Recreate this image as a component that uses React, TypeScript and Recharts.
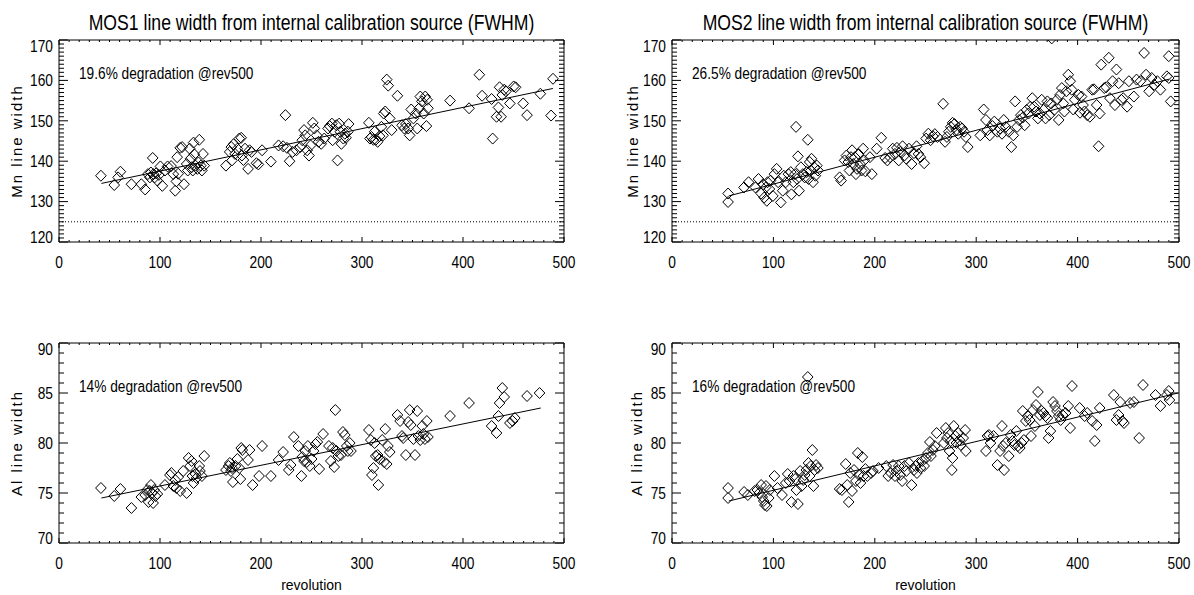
import React from 'react';
import { ScatterChart, Scatter, XAxis, YAxis, ReferenceLine } from 'recharts';

const FONT = "'Liberation Sans', Arial, Helvetica, sans-serif";

// ---------- tick labels ----------
const xMajorTicks = [0, 100, 200, 300, 400, 500];
const mnMajorTicks = [120, 130, 140, 150, 160, 170];
const alMajorTicks = [70, 75, 80, 85, 90];

// ---------- texts ----------
const titleMos1 = 'MOS1 line width from internal calibration source (FWHM)';
const titleMos2 = 'MOS2 line width from internal calibration source (FWHM)';
const labelMn = 'Mn line width';
const labelAl = 'Al line width';
const labelX = 'revolution';
const noteMos1Mn = '19.6% degradation @rev500';
const noteMos2Mn = '26.5% degradation @rev500';
const noteMos1Al = '14% degradation @rev500';
const noteMos2Al = '16% degradation @rev500';

// ---------- reference levels & fits ----------
const mnInitialLevel = 125;
const mos1MnFit: [number, number][] = [[42, 134.5], [489, 158]];
const mos2MnFit: [number, number][] = [[56, 131.4], [490, 160.3]];
const mos1AlFit: [number, number][] = [[42, 74.5], [477, 83.5]];
const mos2AlFit: [number, number][] = [[56, 74.2], [499, 85.0]];

// ---------- data: [revolution, line width] ----------
const mos1MnPoints: [number, number][] = [
  [41.5, 136.4], [54.7, 134.1], [58.5, 136.0], [60.8, 137.4], [71.7, 134.3],
  [81.5, 134.3], [85.3, 133.0], [88, 136.8], [90, 136], [91, 137.2], [92.8, 140.8],
  [93.6, 136.8], [94.7, 136], [96.2, 137], [97.4, 135.2], [98.9, 136.6], [100.4, 138.7],
  [102.3, 133.9], [104.9, 137.7], [107.5, 138.7], [111, 138.8], [113.2, 136.8],
  [115.1, 132.7], [116.2, 135], [117, 141], [118, 136.9], [120, 143.3], [121.9, 143.5],
  [123.8, 134.3], [126.4, 139.3], [127.5, 137.7], [129.4, 143.1], [130.2, 140.6],
  [131.3, 138.5], [132.5, 137.7], [133.2, 144.6], [134, 141.7], [135.1, 138.9],
  [137, 138.1], [138.1, 139.7], [138.9, 145.3], [140.4, 138.9], [141.5, 137.7],
  [142.6, 141.8], [143.8, 138.9],
  [165.3, 138.9], [169, 142.3], [170.6, 143.5], [171.3, 140.2], [172.8, 144.2],
  [174.3, 141.8], [176.6, 143.1], [178.5, 145.6], [180.4, 145.8], [181.1, 141.4],
  [182.6, 140.3], [184.2, 143.1], [187.2, 138.1], [188.7, 142.7], [190.6, 142.3],
  [195.5, 139.5], [197.4, 139.2], [201.1, 142.7], [209.8, 139.9],
  [217.4, 143.9], [221.9, 143.7], [224.2, 151.4], [225.7, 143.3], [228.3, 140],
  [231.3, 142.3], [235.1, 142.7], [238.9, 143.5], [240.8, 145.2], [242.6, 147.7],
  [243.8, 146.4], [245.7, 142.7], [247.5, 141.4], [249.1, 143.9], [251.3, 149.5],
  [252.8, 148.1], [255.1, 146.4], [257, 144.8], [259.6, 144.3], [262.6, 145.6],
  [266.4, 148.1], [268, 148.7], [270.2, 149.3], [270.9, 145.2], [272.8, 147.3],
  [274.7, 148.9], [275.8, 140.2], [277.4, 149.3], [278.5, 147.3], [279.6, 144.3],
  [281.5, 145.6], [283, 146.8], [284.2, 145.8], [286, 147.3], [286.8, 149.2],
  [306.8, 149.5], [307.9, 145.6], [309.4, 146], [311.3, 145.3], [312.5, 147.3],
  [313.6, 145.3], [315.5, 144.8], [317.4, 146.2], [319.2, 148.5], [320.8, 146.4],
  [321.5, 151.8], [323, 152.3], [324.5, 160.2], [326, 158.7], [327.5, 150.6],
  [329.4, 147.7], [335.1, 156.2], [339.6, 148.9], [341.9, 148.1], [343.4, 149.2],
  [345.7, 148.1], [347.2, 146.4], [348.7, 152.8], [350.9, 150.6], [353.2, 151.8],
  [354.7, 148.1], [356.6, 153.1], [357.7, 156], [359.2, 154.8], [361.1, 151.8],
  [362.6, 156], [363.8, 148.7], [365.3, 153.1], [364.5, 155.2],
  [387.2, 155], [406, 153.1], [416.2, 161.4], [418.9, 156.2], [429.4, 145.6],
  [428.3, 155.4], [433.2, 151], [435.1, 153.3], [436.2, 158.3], [437.7, 151],
  [438.9, 156.4], [440.8, 157.7], [442.6, 157.3], [446.4, 154.3], [450.2, 158.5],
  [452.1, 158.3], [459.6, 154.3], [463.4, 151.4], [476.6, 156.7], [487.2, 151.3],
  [489.1, 160.4],
];

const mos2MnPoints: [number, number][] = [
  [55.3, 132], [55.3, 129.9], [71, 133.5], [75.5, 134.8], [82.3, 133.5], [85.3, 135.6],
  [87.9, 132], [89.8, 134.3], [90.9, 131], [92.4, 133.5], [93.5, 130.2], [94.2, 134.8],
  [96.1, 133.1], [97.2, 135.2], [99.5, 131.4], [101, 136.8], [103.2, 138.1], [104.7, 134.8],
  [107.3, 129.8], [109.2, 132.7], [110.3, 136.4], [112.2, 134.8], [114.8, 136.8],
  [117.1, 137.3], [117.8, 131.8], [119.7, 134.8], [121.2, 136.8], [122.3, 148.5],
  [123.4, 135.6], [124.2, 141.2], [125.3, 132.7], [127.1, 138.5], [129, 136.8],
  [130.9, 136], [132.8, 137.3], [133.9, 145.3], [134.6, 135.6], [135.8, 139.8],
  [136.9, 137.7], [137.6, 140.6], [139.1, 134.8], [140.2, 138.5], [141.4, 136.4],
  [142.9, 138.9], [144, 137.7],
  [165.3, 136], [166.8, 135.2], [170.2, 140.2], [172, 141.4], [173.9, 139.8], [175, 137.7],
  [176.5, 141], [177.6, 142.7], [178.8, 139.3], [180.3, 141], [181.4, 136.8], [182.5, 138.1],
  [184, 141.8], [185.5, 139.3], [187, 137.7], [188.5, 143.1], [189.6, 140.2], [190.7, 137.5],
  [195.2, 141], [197.1, 136.8], [201.9, 143.1], [206.4, 145.8],
  [210.2, 140.8], [212.4, 140.2], [215, 141], [217.7, 143.1], [219.9, 141.8], [221.8, 143.3],
  [223.6, 140.2], [225.1, 142.3], [227.4, 143.7], [229.2, 141.4], [231.1, 140.6],
  [233.7, 143.1], [236.3, 139.3], [238.6, 142], [241.2, 143.7], [243.1, 141.8], [245, 141],
  [248.7, 139.5],
  [250.6, 145.6], [252.8, 146.8], [255, 145.2], [257.3, 146.2], [259.2, 146.7], [261.8, 146],
  [267.4, 154.2], [269.3, 144.8], [271.1, 146], [273, 147.3], [274.9, 148.5], [276.7, 149.5],
  [278.6, 149.2], [280.5, 147.8], [282.3, 146.8], [284.2, 148.5], [286.1, 148.1],
  [288, 147.3], [289.8, 146], [291.7, 143.5],
  [304, 146.4], [307.4, 152.8], [309.6, 150.2], [311.1, 147.7], [313.4, 146.4], [316, 148.7],
  [317.9, 149.8], [320.9, 147.3], [323.5, 148.1], [325.4, 146.8], [327.2, 150.2],
  [329.1, 148.5], [332.1, 147.3], [334.7, 143.5], [336.6, 146.4], [338.4, 154.8],
  [340.3, 148.5], [342.2, 150.2], [344, 151.4], [345.9, 150.8], [347.8, 148.9],
  [349.7, 152.7], [351.5, 151.8], [353.4, 153.5], [355.3, 155.6], [357.1, 153.5],
  [359, 152.3], [360.9, 150.6], [362.8, 151.8], [364.6, 155.2], [366.5, 152.7],
  [368.4, 150.6], [370.2, 154.8], [372.1, 151.4], [374, 154.3], [374.5, 170.4],
  [377, 152.7], [379.6, 155.2], [381.4, 150.2], [382.6, 156.4], [384.4, 158.1],
  [385.9, 154.3], [387, 152.3], [388.9, 157.3], [390.8, 161.4], [392.7, 159.8],
  [394.2, 157.7], [395.7, 152.8], [397.2, 155.2],
  [400.9, 156.4], [402.4, 152], [403.9, 156], [405.4, 153.9], [406.9, 152.3], [409.5, 151.4],
  [412.1, 151], [414.4, 157.7], [416.2, 157.8], [418.8, 153.9], [420.7, 143.7],
  [421.8, 151.8], [423.3, 163.9], [426.3, 158.1], [428.2, 158.3], [430.8, 165.6],
  [431.9, 155.6], [434.5, 159.8], [436.8, 153.9], [438.3, 162.7], [440.5, 159.3],
  [443.1, 155.2], [445, 155.6], [448.8, 153.5], [450.6, 159.8], [455.5, 156],
  [458.1, 160.2], [461.9, 159.8], [465.6, 166.8], [467.5, 161.4], [470.5, 157.3],
  [473.1, 160.6], [475.7, 158.9], [478.7, 159.8], [481.7, 157.7], [488, 161],
  [489.9, 166], [489.9, 160.6], [491.8, 154.8],
];

const mos1AlPoints: [number, number][] = [
  [41.5, 75.5], [54.7, 74.7], [60.8, 75.4], [71.7, 73.5], [81.5, 74.6], [85.3, 74.8],
  [87.2, 75.3], [88.7, 74.1], [89.8, 75.2], [91, 75.8], [92.1, 75], [93.2, 74],
  [94.3, 75.3], [95.5, 74.7], [97.4, 74.9], [104.9, 75.8], [109.8, 76.8], [111.3, 77],
  [113.2, 75.7], [115.1, 76.3], [116.2, 75.5], [118.1, 76.6], [120, 75.2], [123, 77.2],
  [126.4, 75], [128.3, 78.5], [129.8, 77.7], [131.3, 78.2], [132.1, 76.7], [133.2, 76],
  [135.1, 76.9], [136.2, 76.5], [138.9, 77.7], [139.6, 77.2], [141.5, 76.7], [143.8, 78.7],
  [165.3, 77.3], [167.9, 77.7], [169.1, 78], [170.2, 77.2], [171.3, 77.5], [172.1, 76.1],
  [174.7, 77.7], [176.6, 78.4], [178.5, 77.5], [179.6, 76.4], [180.4, 79.5], [181.5, 79.3],
  [187.2, 78.3], [188.7, 79.3], [191.7, 75.8], [198.1, 76.7], [201.1, 79.7], [209.8, 76.7],
  [217.4, 78.3], [221.9, 79.1], [227.5, 77.3], [229.4, 77.8], [232.5, 80.6], [237, 79.7],
  [240, 76.7], [240.8, 78.6], [242.6, 78.2], [243.8, 79.2], [245.3, 78.1], [246.4, 79.7],
  [248.3, 77.7], [250.2, 78.4], [252.1, 79.2], [254, 79.9], [255.8, 80.1], [257.7, 77.4],
  [261.5, 80.9],
  [267.2, 79.7], [269.1, 78.2], [271, 79.5], [272.5, 77.6], [273.6, 83.3], [274.7, 79.2],
  [276.6, 78.7], [279.2, 78.8], [281.1, 81.1], [283, 80.8], [284.9, 79.7], [286, 79.2],
  [287.9, 80], [289.1, 79.2],
  [306.8, 81.3], [308.7, 80.3], [309.8, 76.8], [311.3, 77.5], [312.5, 80], [313.6, 78.7],
  [315.5, 78.8], [316.2, 75.8], [317.4, 78.4], [320, 80.3], [321.9, 78.1], [323, 81.4],
  [324.5, 77.9], [325.7, 79.7], [327.5, 79.1], [335.1, 82.8], [337.7, 82.2], [339.6, 80.7],
  [340.8, 80.5], [343.4, 78.8], [345.7, 82.1], [347.2, 83.3], [348.3, 81.8], [350.9, 80.4],
  [352.5, 78.8], [354.7, 83.2], [355.8, 80.7], [357.7, 80.3], [359.6, 81.7], [360.8, 80.9],
  [362.3, 80.4], [364.2, 82.2], [365.3, 80.6],
  [387.2, 82.7], [406, 84], [428.3, 81.7], [433.2, 81], [435.1, 82.7], [436.2, 84],
  [438.9, 85.5], [440.8, 84.6], [446.4, 82], [449.1, 82.2], [451.3, 82.5], [463.4, 84.7],
  [475.8, 85],
];

const mos2AlPoints: [number, number][] = [
  [55.3, 75.5], [55.3, 74.5], [71.1, 75.1], [74.8, 74.8], [81.5, 75.2], [84.1, 75.3],
  [86, 75], [87.9, 75.8], [89, 74.6], [90.5, 74.2], [91.6, 73.8], [92.7, 75.7], [93.5, 73.7],
  [95.4, 74.5], [96.5, 75.3], [101, 76.7], [104, 75.5], [108.5, 74.8], [112.2, 76],
  [114.1, 76.9], [115.9, 76.2], [117.8, 74.1], [119.7, 76.7], [121.5, 76.4], [122.7, 75.3],
  [124.2, 73.9], [126.4, 77.2], [127.9, 75.7], [129.4, 76.3], [130.9, 76.8], [132.4, 77.3],
  [133.9, 86.6], [134.6, 78], [135.8, 76.7], [136.9, 77.7], [138.4, 79.3], [139.5, 75.7],
  [140.6, 77.3], [142.1, 77.8], [143.9, 77.5],
  [165.3, 75.4], [167.5, 75.3], [171.3, 77.9], [172.8, 75.8], [174.3, 74.1], [175.8, 77],
  [177.6, 75.2], [179.5, 77.3], [181.4, 76.2], [183.2, 79], [184.4, 76.8], [185.9, 76],
  [187.7, 78.6], [188.9, 76.7], [190.7, 77.4], [192.6, 76.7], [196.3, 77], [198.2, 77.2],
  [203.8, 77.5],
  [211.3, 77.7], [213.2, 76.7], [215.8, 77], [218, 77.8], [219.9, 76.7], [221.4, 77.2],
  [223.6, 77.7], [225.1, 76.8], [227, 76.2], [229.2, 77.7], [231.1, 77.2], [233.7, 78],
  [236.3, 75.8], [238.6, 77.3], [240.1, 77.7], [241.6, 77], [243.1, 78], [245, 77.5],
  [246.8, 78.2], [248.7, 77.7], [250.6, 78.5], [252.4, 79], [254.3, 80.1], [255.4, 78.7],
  [257.3, 79.3], [259.2, 79.7], [261, 81],
  [268.1, 80], [270, 81.5], [271.1, 80.5], [272.3, 81], [273.7, 79.2], [274.9, 80.2],
  [276, 77.3], [276.7, 78.5], [277.9, 81.7], [279.4, 80.7], [280.5, 80], [282.3, 81],
  [283.5, 80.3], [284.9, 79.8], [287.2, 80.5], [289.1, 81.3], [289.8, 79.2],
  [309.6, 79.2], [311.1, 80.7], [312.6, 80.8], [314.1, 80], [317.1, 80.7], [320.9, 77.8],
  [323.5, 79.2], [325.4, 81.7], [326.5, 79.7], [327.6, 77.3], [329.1, 80], [332.1, 78.7],
  [334, 80.8], [335.8, 80.2], [337.7, 79.8], [339.6, 81.2], [341.1, 79.7], [343, 79.5],
  [344.8, 80], [345.9, 83.2], [347, 80.3], [348.9, 82.2], [350.8, 82.7], [352.7, 82.3],
  [354.1, 80.7], [356, 83.3], [357.9, 81.7], [359, 83.8], [360.9, 85.1], [362.8, 82.8],
  [364.6, 83.2], [366.5, 83], [368.4, 82.7], [370.2, 82.5], [371.4, 80.5], [373.2, 81.2],
  [375.8, 84.1], [377.7, 83.7], [379.6, 83.2], [381.4, 82.7], [383.3, 82.3], [385.2, 82.8],
  [388.2, 83], [390.8, 83.7], [392.7, 81.5], [394.5, 85.7],
  [402, 83.5], [406.9, 82.7], [409.5, 83], [414.4, 82.2], [417, 80.2], [418.8, 81.8],
  [421.8, 83.5], [435.7, 84.8], [438.3, 82.3], [440.5, 82.8], [442, 84.1], [444.3, 82.2],
  [445.8, 82], [451.8, 84], [455.5, 84.1], [460.7, 80.5], [464.5, 85.8], [476.8, 84.8],
  [481.7, 83.7], [488, 84.8], [489.9, 85.2], [490.6, 84.3],
];

// ---------- helpers ----------
function steps(lo: number, hi: number, step: number): number[] {
  const out: number[] = [];
  for (let v = lo; v <= hi + 1e-9; v += step) out.push(Math.round(v * 1000) / 1000);
  return out;
}
const xMinorTicks = steps(0, 500, 10);

const TEXT_SCALE = 0.86;
const X_AXIS_H = 30;
const Y_AXIS_W = 40;

function makeXTick(plotTop: number) {
  return (props: any) => {
    const { x, y, payload } = props;
    const v = payload.value;
    const major = xMajorTicks.includes(v);
    const len = major ? 5 : 2;
    return (
      <g>
        <line x1={x} x2={x} y1={y} y2={y - len} stroke="#000" strokeWidth={1} />
        <line x1={x} x2={x} y1={plotTop} y2={plotTop + len} stroke="#000" strokeWidth={1} />
        {major && (
          <text
            transform={`translate(${x},${y + 26}) scale(${TEXT_SCALE},1)`}
            textAnchor="middle"
            fontFamily={FONT}
            fontSize={16}
            fill="#000"
          >
            {v}
          </text>
        )}
      </g>
    );
  };
}

function makeYTick(plotRight: number, yMin: number, yMax: number, majors: number[]) {
  return (props: any) => {
    const { x, y, payload } = props;
    const v = payload.value;
    const major = majors.includes(v);
    const len = major ? 9 : 5;
    const shift = v === yMax ? 6 : v === yMin ? -5 : 0;
    return (
      <g>
        <line x1={x} x2={x + len} y1={y} y2={y} stroke="#000" strokeWidth={1} />
        <line x1={plotRight} x2={plotRight - len} y1={y} y2={y} stroke="#000" strokeWidth={1} />
        {major && (
          <text
            transform={`translate(${x - 6},${y + 5.7 + shift}) scale(${TEXT_SCALE},1)`}
            textAnchor="end"
            fontFamily={FONT}
            fontSize={16}
            fill="#000"
          >
            {v}
          </text>
        )}
      </g>
    );
  };
}

const Diamond = (props: any) => {
  const { cx, cy } = props;
  if (cx == null || cy == null) return null;
  const w = 5.3;
  const h = 5.5;
  return (
    <polygon
      points={`${cx},${cy - h} ${cx + w},${cy} ${cx},${cy + h} ${cx - w},${cy}`}
      fill="none"
      stroke="#000"
      strokeWidth={1}
    />
  );
};

type PanelProps = {
  left: number;
  top: number;
  width: number;
  height: number;
  plot: { top: number; right: number; bottom: number; left: number };
  points: [number, number][];
  fit: [number, number][];
  yMin: number;
  yMax: number;
  yMajors: number[];
  level?: number;
};

function Panel(p: PanelProps) {
  const data = p.points.map(([x, y]) => ({ x, y }));
  const plotTop = p.plot.top;
  const plotRight = p.width - p.plot.right;
  const yTicks = steps(p.yMin, p.yMax, 1);
  const margin = {
    top: p.plot.top,
    right: p.plot.right,
    bottom: p.plot.bottom - X_AXIS_H,
    left: p.plot.left - Y_AXIS_W,
  };
  return (
    <div style={{ position: 'absolute', left: p.left, top: p.top }}>
      <ScatterChart width={p.width} height={p.height} margin={margin}>
        <XAxis
          type="number"
          dataKey="x"
          domain={[0, 500]}
          allowDataOverflow
          ticks={xMinorTicks}
          interval={0}
          tickSize={0}
          tickMargin={0}
          tickLine={false}
          height={X_AXIS_H}
          axisLine={{ stroke: '#000', strokeWidth: 1 }}
          tick={makeXTick(plotTop)}
        />
        <YAxis
          type="number"
          dataKey="y"
          domain={[p.yMin, p.yMax]}
          allowDataOverflow
          ticks={yTicks}
          interval={0}
          tickSize={0}
          tickMargin={0}
          tickLine={false}
          width={Y_AXIS_W}
          axisLine={{ stroke: '#000', strokeWidth: 1 }}
          tick={makeYTick(plotRight, p.yMin, p.yMax, p.yMajors)}
        />
        <ReferenceLine y={p.yMax} stroke="#000" strokeWidth={1} />
        <ReferenceLine x={500} stroke="#000" strokeWidth={1} />
        {p.level != null && (
          <ReferenceLine y={p.level} stroke="#000" strokeWidth={1} strokeDasharray="1 2" />
        )}
        <ReferenceLine
          segment={[
            { x: p.fit[0][0], y: p.fit[0][1] },
            { x: p.fit[1][0], y: p.fit[1][1] },
          ]}
          stroke="#000"
          strokeWidth={1}
        />
        <Scatter data={data} shape={Diamond} isAnimationActive={false} />
      </ScatterChart>
    </div>
  );
}

const textStyle = { fontFamily: FONT, fill: '#000' } as const;

export default function App() {
  return (
    <div
      style={{
        position: 'absolute',
        left: 0,
        top: 0,
        width: 1194,
        height: 595,
        background: '#fff',
        overflow: 'hidden',
      }}
    >
      <Panel
        left={0}
        top={0}
        width={600}
        height={300}
        plot={{ top: 40, right: 36, bottom: 58, left: 59 }}
        points={mos1MnPoints}
        fit={mos1MnFit}
        yMin={120}
        yMax={170}
        yMajors={mnMajorTicks}
        level={mnInitialLevel}
      />
      <Panel
        left={600}
        top={0}
        width={594}
        height={300}
        plot={{ top: 40, right: 15, bottom: 58, left: 72 }}
        points={mos2MnPoints}
        fit={mos2MnFit}
        yMin={120}
        yMax={170}
        yMajors={mnMajorTicks}
        level={mnInitialLevel}
      />
      <Panel
        left={0}
        top={300}
        width={600}
        height={295}
        plot={{ top: 43, right: 36, bottom: 52, left: 59 }}
        points={mos1AlPoints}
        fit={mos1AlFit}
        yMin={70}
        yMax={90}
        yMajors={alMajorTicks}
      />
      <Panel
        left={600}
        top={300}
        width={594}
        height={295}
        plot={{ top: 43, right: 15, bottom: 52, left: 72 }}
        points={mos2AlPoints}
        fit={mos2AlFit}
        yMin={70}
        yMax={90}
        yMajors={alMajorTicks}
      />
      <svg
        width={1194}
        height={595}
        style={{ position: 'absolute', left: 0, top: 0, pointerEvents: 'none' }}
      >
        <text transform="translate(311.5,30) scale(0.82,1)" textAnchor="middle" fontSize={21.5} {...textStyle}>
          {titleMos1}
        </text>
        <text transform="translate(925.5,30) scale(0.82,1)" textAnchor="middle" fontSize={21.5} {...textStyle}>
          {titleMos2}
        </text>

        <text transform="translate(22,141) rotate(-90)" textAnchor="middle" fontSize={15} letterSpacing={2} {...textStyle}>
          {labelMn}
        </text>
        <text transform="translate(638,141) rotate(-90)" textAnchor="middle" fontSize={15} letterSpacing={2} {...textStyle}>
          {labelMn}
        </text>
        <text transform="translate(22,443) rotate(-90)" textAnchor="middle" fontSize={15} letterSpacing={2} {...textStyle}>
          {labelAl}
        </text>
        <text transform="translate(642,443) rotate(-90)" textAnchor="middle" fontSize={15} letterSpacing={2} {...textStyle}>
          {labelAl}
        </text>

        <text x={311.5} y={590} textAnchor="middle" fontSize={14} {...textStyle}>
          {labelX}
        </text>
        <text x={925.5} y={590} textAnchor="middle" fontSize={14} {...textStyle}>
          {labelX}
        </text>

        <text transform="translate(79,79) scale(0.83,1)" fontSize={16.5} {...textStyle}>
          {noteMos1Mn}
        </text>
        <text transform="translate(692,79) scale(0.83,1)" fontSize={16.5} {...textStyle}>
          {noteMos2Mn}
        </text>
        <text transform="translate(79,392) scale(0.83,1)" fontSize={16.5} {...textStyle}>
          {noteMos1Al}
        </text>
        <text transform="translate(692,392) scale(0.83,1)" fontSize={16.5} {...textStyle}>
          {noteMos2Al}
        </text>
      </svg>
    </div>
  );
}
